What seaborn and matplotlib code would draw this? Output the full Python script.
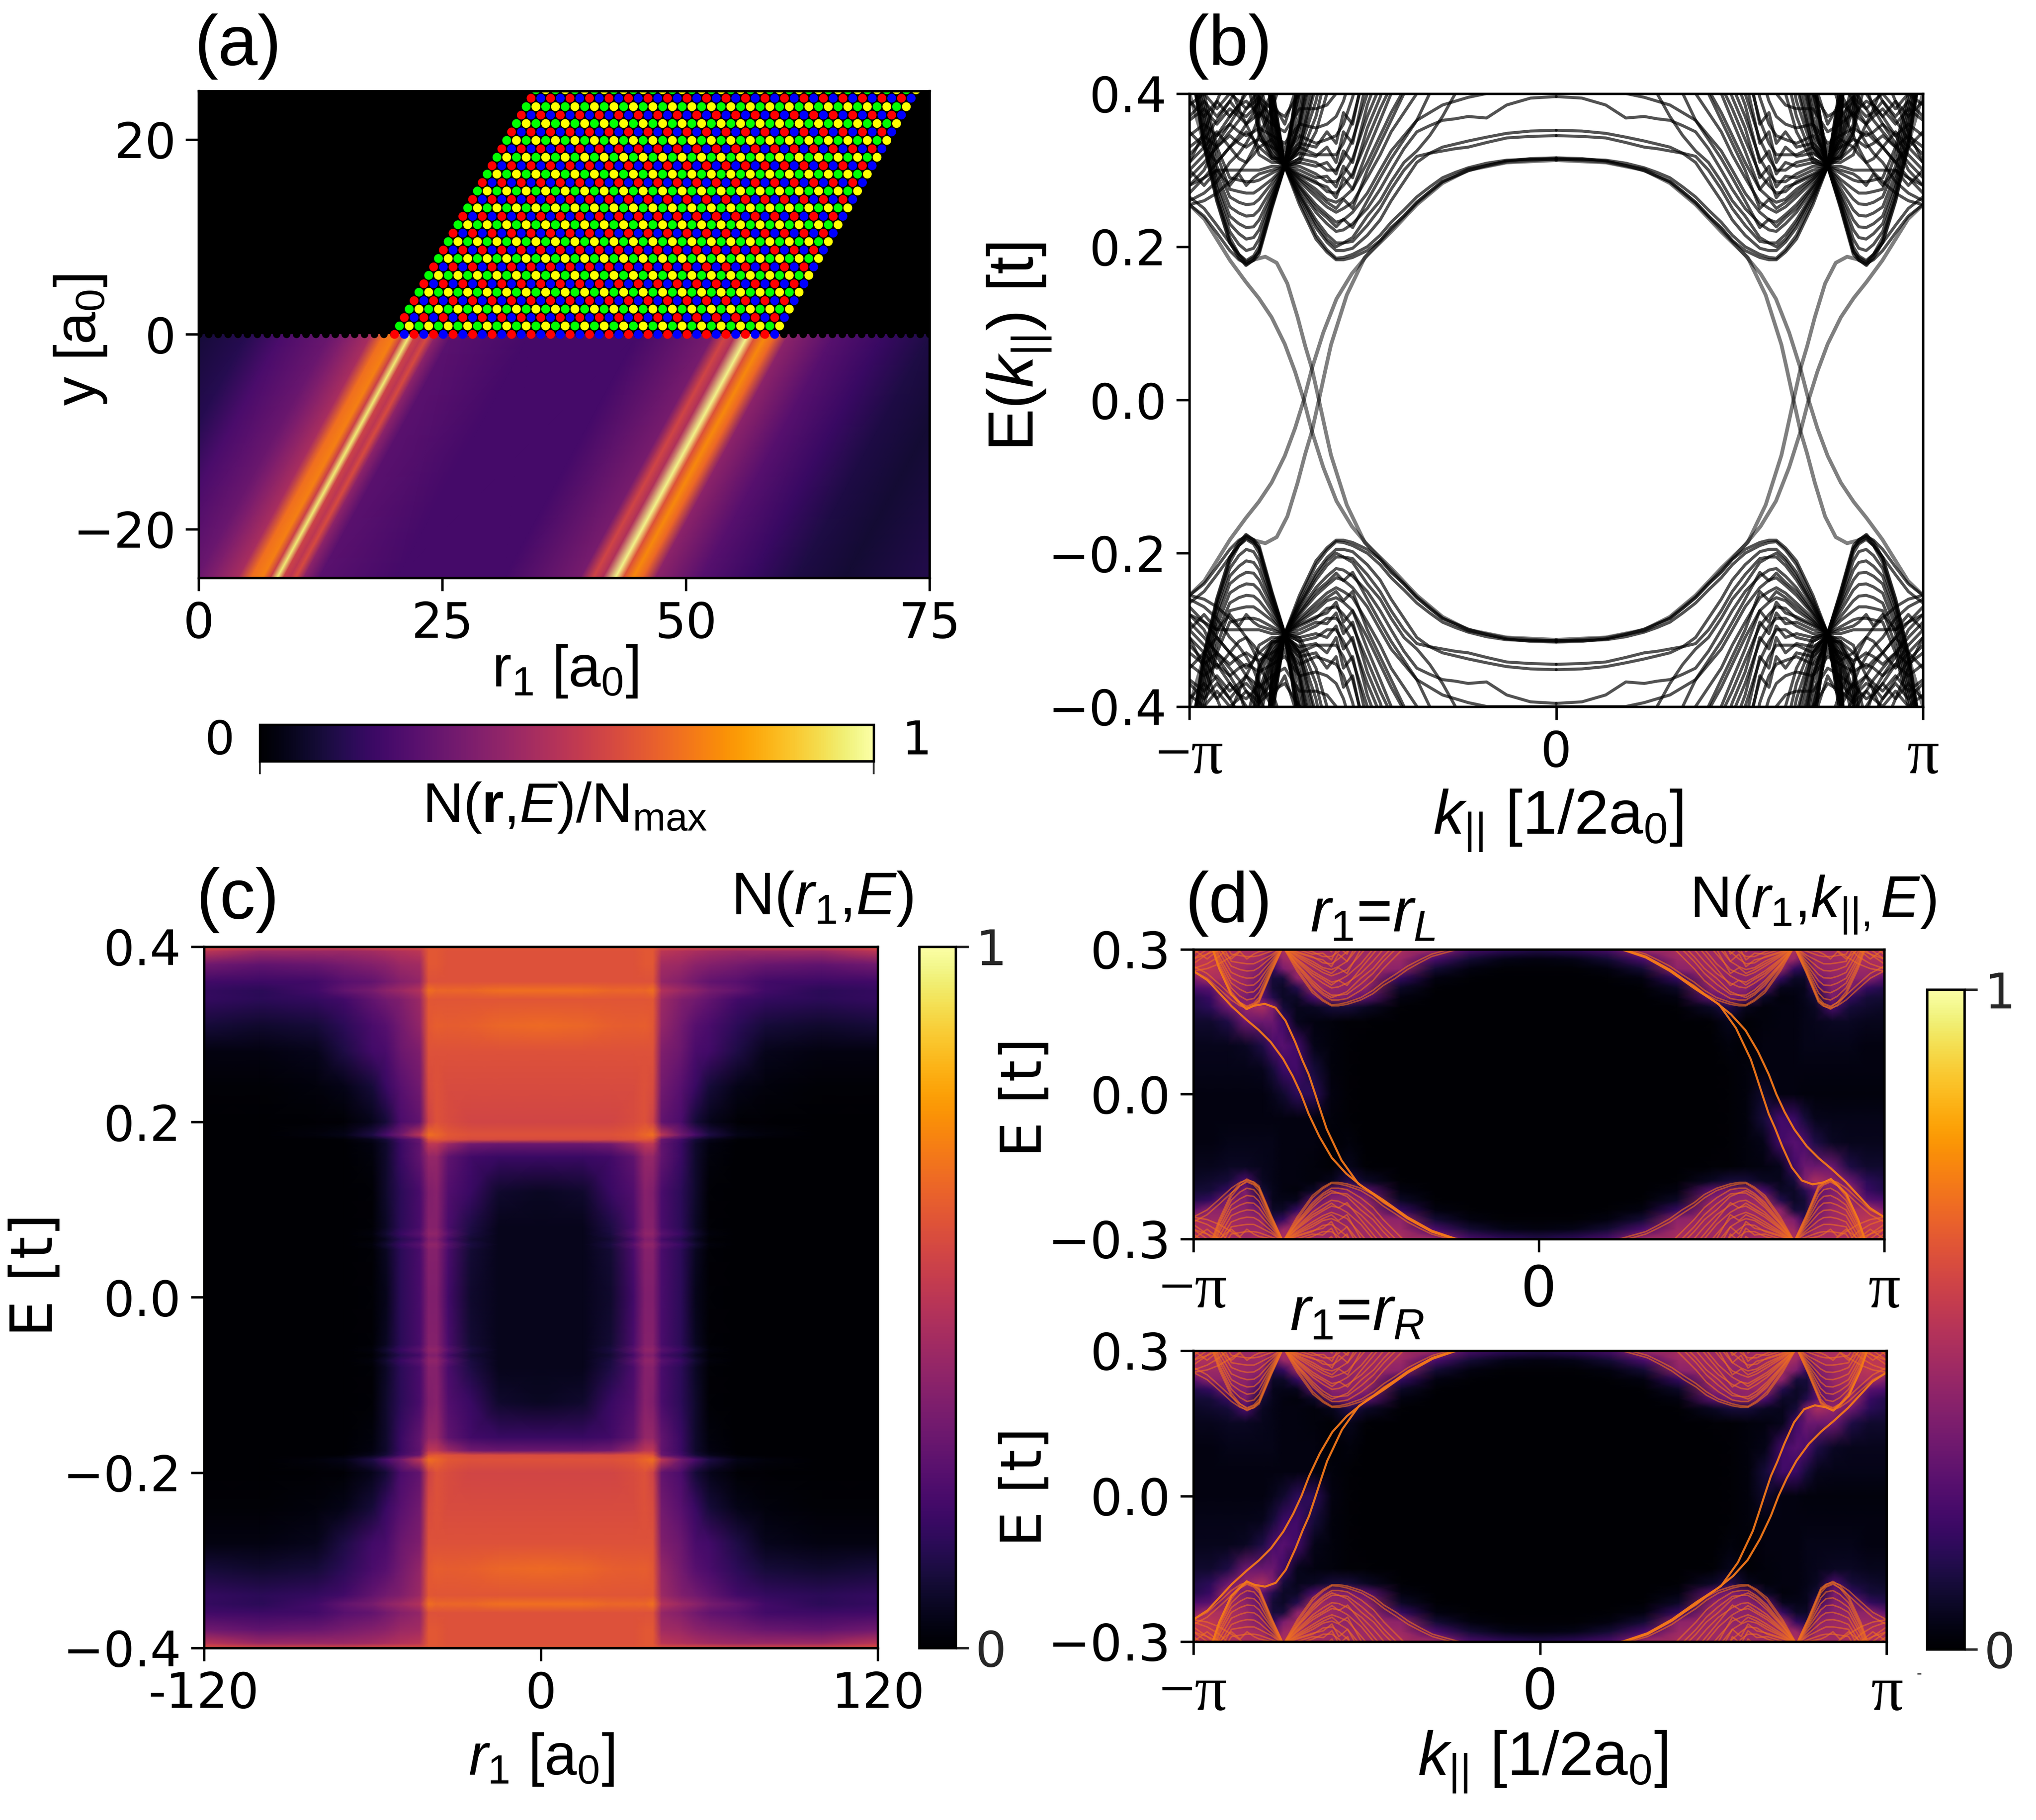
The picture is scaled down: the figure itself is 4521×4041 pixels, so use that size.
import numpy as np
import pandas as pd
import matplotlib
matplotlib.use("Agg")
import matplotlib.pyplot as plt
import seaborn as sns

W, H = 1568.0, 1401.5  # layout units of the page

# (a) LDOS profile across the stripe, r1 at y=0 against N/Nmax
STRIPE_R = [0, 5, 8.5, 13.5, 15, 17.7, 19, 20.2, 21, 21.7, 22.3, 23, 23.6, 24.4, 26, 34, 45,
            52.8, 54.1, 55.1, 56.4, 57.2, 58.2, 59.2, 60.5, 65.2, 70.3, 75, 80, 88.7]
STRIPE_N = [.1, .14, .22, .3, .35, .45, .68, .72, .54, .95, .55, .5, .58, .38, .26, .21, .21,
            .33, .56, .47, .97, .6, .74, .66, .38, .25, .18, .12, .09, .13]
STRIPE_TILT = 0.546
LATTICE_START = 20.1
LATTICE_ROWS = 30
LATTICE_COLS = 40

# (b) gap states, k/pi and E
GAP_A_K = [-1, -.959, -.924, -.889, -.846, -.811, -.776, -.74, -.712, -.688, -.666, -.635,
           -.599, -.557, -.515, -.451, -.381, -.31, -.24, -.134, 0]
GAP_A_E = [.255, .236, .209, .182, .154, .133, .108, .073, .037, 0, -.041, -.088,
           -.132, -.165, -.189, -.222, -.257, -.285, -.301, -.311, -.315]
GAP_B_K = [-1, -.96, -.925, -.89, -.846, -.825, -.793, -.762, -.733, -.705, -.684, -.666,
           -.647, -.628, -.614, -.571, -.522, -.451, -.38, -.31, -.24, -.135, 0]
GAP_B_E = [.40, .335, .26, .206, .176, .183, .187, .179, .152, .108, .07, .041,
           0, -.042, -.072, -.137, -.186, -.219, -.255, -.283, -.30, -.31, -.313]

# (b) bulk bands above the gap, k/pi knots left and right of the fan bottom
BAND_K_LEFT = [-1, -.96, -.925, -.89, -.865, -.845, -.825, -.81, -.775, -.74, -.70, -.655, -.625]
BAND_K_RIGHT = [-.60, -.58, -.555, -.515, -.48, -.45, -.415, -.38, -.345, -.31, -.275, -.24,
                -.19, -.135, -.07, 0]
X = 0.6  # off the top of the axes
VALLEY_LEFT = [
    [.45, .33, .26, .206, .185, .176, .183, .195, .255, .305, .43, X, X],
    [.45, .335, .265, .212, .19, .182, .188, .2, .258, .305, .41, X, X],
    [.45, .34, .27, .22, .203, .195, .198, .21, .262, .305, .39, .55, X],
    [.45, .35, .278, .23, .217, .21, .212, .222, .266, .305, .37, .5, X],
    [.45, .36, .285, .24, .23, .225, .226, .235, .27, .305, .355, .47, X],
    [.45, .37, .295, .252, .244, .24, .241, .248, .276, .305, .34, .44, .55],
    [.45, .38, .305, .265, .258, .255, .256, .262, .283, .305, .33, .41, .5],
    [.45, .39, .32, .275, .272, .27, .27, .275, .288, .305, .325, .39, .46],
    [.45, .40, .33, .29, .287, .285, .285, .287, .296, .305, .315, .37, .43],
    [.28, .29, .30, .30, .30, .30, .30, .30, .305, .305, .31, .35, .40],
    [.255, .24, .218, .195, .183, .178, .182, .19, .25, .305, .43, X, X],
    [.265, .25, .228, .205, .19, .18, .186, .193, .252, .305, .42, X, X],
]
FAN_LEFT = [
    [X, X, X, X, X, X, X, X, .41, .305, .255, .21, .193],
    [X, X, X, X, X, X, X, X, .415, .305, .26, .215, .196],
    [X, X, X, X, X, X, X, X, .40, .305, .265, .225, .206],
    [X, X, X, X, X, X, X, X, .39, .305, .27, .235, .216],
    [X, X, X, X, X, X, X, X, .38, .305, .275, .245, .23],
    [X, X, X, X, X, X, X, X, .37, .305, .28, .255, .242],
    [X, X, X, X, X, X, X, X, .36, .305, .285, .265, .252],
    [X, X, X, X, X, X, X, X, .35, .305, .29, .275, .262],
    [X, X, X, X, X, X, X, .40, .34, .305, .295, .285, .272],
    [X, X, X, X, .55, .5, .43, .38, .33, .305, .305, .295, .285],
    [X, X, X, .5, .46, .42, .38, .35, .32, .305, .315, .31, .30],
    [X, .55, .48, .41, .38, .36, .34, .32, .31, .31, .33, .32, .32],
    [.33, .345, .33, .345, .335, .33, .337, .34, .33, .32, .345, .335, .34],
    [.345, .36, .345, .36, .35, .345, .35, .355, .345, .335, .36, .355, .36],
    [.365, .38, .36, .38, .37, .36, .368, .375, .36, .35, .38, .38, .385],
    [.385, .40, .38, .40, .39, .38, .388, .395, .38, .37, .40, .41, .425],
    [X, X, X, X, X, X, X, X, .395, .305, .268, .23, .21],
    [X, X, X, X, X, X, X, X, .375, .305, .278, .25, .238],
    [X, X, X, X, X, X, X, X, .355, .305, .288, .27, .258],
    [X, X, X, X, X, X, X, .42, .345, .305, .293, .283, .278],
    [X, X, X, X, X, X, X, .39, .335, .305, .30, .29, .292],
    [X, X, X, X, X, X, X, .36, .325, .305, .31, .305, .31],
    [X, X, X, X, X, X, .42, .35, .318, .31, .322, .318, .33],
    [X, X, X, X, X, .46, .40, .345, .315, .315, .335, .33, .35],
]
FAN_RIGHT = [
    [.183, .183, .186, .195, .208, .225, .24, .258, .272, .285, .292, .299, .306, .312, .315, .316],
    [.185, .186, .19, .2, .215, .232, .248, .265, .278, .29, .297, .303, .309, .313, .314, .314],
    [.195, .195, .198, .215, .235, .26, .285, .31, .322, .33, .334, .338, .343, .348, .351, .352],
    [.205, .205, .207, .228, .25, .275, .30, .318, .322, .325, .328, .33, .336, .342, .344, .345],
    [.22, .222, .23, .25, .275, .30, .328, .35, .358, .365, .367, .37, .368, .385, .394, .396],
    [.232, .235, .245, .27, .30, .325, .345, .365, .375, .385, .39, .395, .40, .40, .40, .40],
    [.245, .25, .258, .29, .32, .35, .375, .40, .415, .43, .46, .5],
    [.258, .264, .275, .31, .345, .375, .405, .44, .48, .52],
    [.27, .28, .295, .34, .38, .41, .45, .5],
    [.285, .295, .315, .37, .41, .45, .5, .55],
    [.30, .315, .34, .40, .45, .5],
    [.32, .335, .365, .44, .5, .55],
    [.345, .36, .395, .48],
    [.37, .39, .43, .52],
    [.40, .42, .46],
    [.44, .46, .5],
    [.20, .205, .212, .24, .26, .285, .31, .325, .345, .37, .40, .45],
    [.226, .236, .225, .26, .29, .315, .34, .365, .40, .44, .5],
    [.25, .262, .25, .30, .335, .365, .40, .45, .5],
    [.264, .29, .275, .325, .365, .40, .45, .5],
    [.278, .305, .29, .355, .395, .44, .5],
    [.295, .325, .31, .385, .43, .48],
    [.31, .35, .335, .42, .47],
    [.335, .375, .36, .45, .5],
]
CROSS_LEFT = [
    [.27, .29, .31, .33, .345, .36, .375, .39, .42, X, X, X, X],
    [.29, .31, .33, .35, .365, .38, .395, .41, X, X, X, X, X],
    [.26, .27, .285, .31, .322, .335, .352, .37, .40, X, X, X, X],
    [.255, .26, .27, .285, .297, .31, .328, .345, .38, .43, X, X, X],
    [.30, .32, .345, .37, .385, .40, .415, .43, X, X, X, X, X],
    [.32, .34, .365, .39, .41, .43, .45, X, X, X, X, X, X],
    [.30, .28, .30, .28, .295, .28, .29, .295, .30, .305, .36, .5, X],
    [.31, .33, .31, .33, .315, .31, .32, .33, .315, .305, .33, .42, .5],
    [.35, .33, .35, .33, .34, .35, .34, .33, .34, .31, .36, .45, X],
    [.37, .39, .37, .39, .375, .37, .38, .39, .37, .325, .40, .5, X],
    [.39, .37, .39, .37, .385, .39, .38, .37, .39, .36, .42, .5, X],
    [.31, .35, .39, .43, .46, .5, X, X, X, X, X, X, X],
    [.28, .30, .335, .36, .38, .41, .44, .47, X, X, X, X, X],
]

# (c) N(r1,E): r1 columns, upper half E rows
C_R = [0, 15, 25, 33, 37, 40, 43, 50, 55, 60, 70, 80, 100, 120]
C_E = [.40, .395, .38, .36, .35, .34, .31, .28, .24, .2, .185, .18, .175, .16, .12, .08, .072, .066, .06, .054, 0]
C_N = [
    [.62, .62, .62, .62, .62, .62, .6, .6, .6, .6, .58, .58, .58, .6],
    [.6, .6, .6, .6, .62, .62, .5, .48, .46, .44, .42, .42, .42, .5],
    [.6, .6, .6, .6, .62, .62, .44, .42, .38, .36, .33, .3, .28, .32],
    [.6, .6, .6, .6, .6, .6, .4, .36, .32, .28, .25, .2, .19, .2],
    [.68, .68, .66, .66, .66, .68, .48, .42, .38, .33, .28, .2, .15, .17],
    [.61, .61, .61, .61, .61, .62, .42, .35, .32, .28, .2, .17, .15, .17],
    [.67, .66, .64, .63, .64, .62, .4, .32, .25, .22, .15, .1, .08, .1],
    [.6, .6, .6, .6, .6, .6, .35, .3, .22, .2, .12, .05, .03, .03],
    [.58, .58, .58, .58, .6, .58, .32, .25, .18, .1, .04, .02, .01, .01],
    [.56, .56, .56, .58, .6, .55, .28, .22, .1, .05, .01, .005, 0, 0],
    [.6, .6, .6, .62, .66, .68, .5, .32, .22, .12, .04, .02, 0, 0],
    [.58, .58, .58, .6, .62, .6, .3, .2, .1, .05, .01, 0, 0, 0],
    [.3, .3, .32, .42, .5, .5, .28, .18, .08, .03, 0, 0, 0, 0],
    [.18, .18, .2, .27, .4, .4, .28, .18, .08, .02, 0, 0, 0, 0],
    [.06, .08, .18, .24, .37, .35, .22, .15, .08, .01, 0, 0, 0, 0],
    [.05, .05, .12, .22, .36, .36, .22, .15, .07, .01, 0, 0, 0, 0],
    [.05, .05, .11, .26, .39, .39, .26, .18, .09, .02, 0, 0, 0, 0],
    [.05, .05, .09, .21, .35, .35, .21, .14, .06, .01, 0, 0, 0, 0],
    [.05, .05, .11, .26, .39, .39, .26, .18, .09, .02, 0, 0, 0, 0],
    [.05, .05, .09, .22, .36, .36, .22, .15, .06, .01, 0, 0, 0, 0],
    [.05, .05, .08, .2, .35, .35, .22, .15, .05, .01, 0, 0, 0, 0],
]

# (d) glow under the lines, upper half E rows, columns for |k|/pi going 1 -> 0
D_K = [1, .95, .9, .85, .8, .77, .74, .7, .65, .6, .55, .5, .4, .3, .2, .1, 0]
D_E = [.3, .28, .26, .24, .22, .2, .18, .15, .1, .05, 0]
D_LEFT = [
    [.42, .5, .46, .46, .46, .42, .46, .46, .46, .42, .42, .42, .46, .42, .22, .16, .13],
    [.5, .5, .46, .46, .42, .26, .42, .46, .42, .42, .42, .42, .42, .22, .09, .04, .03],
    [.52, .5, .46, .42, .34, .17, .34, .42, .42, .38, .38, .42, .38, .09, .03, .01, .01],
    [.34, .46, .46, .42, .3, .1, .1, .38, .42, .42, .38, .42, .17, .03, .01, 0, 0],
    [.22, .26, .42, .38, .26, .09, .07, .13, .42, .4, .38, .38, .07, .01, 0, 0, 0],
    [.13, .18, .42, .34, .26, .13, .07, .07, .22, .38, .34, .26, .03, 0, 0, 0, 0],
    [.12, .15, .3, .4, .45, .35, .1, .05, .06, .1, .1, .06, .01, 0, 0, 0, 0],
    [.08, .08, .12, .3, .3, .3, .2, .05, .03, .02, .01, .01, 0, 0, 0, 0, 0],
    [.05, .05, .05, .06, .12, .22, .25, .2, .04, .02, .01, 0, 0, 0, 0, 0, 0],
    [.04, .04, .04, .04, .05, .1, .18, .2, .1, .02, .01, 0, 0, 0, 0, 0, 0],
    [.03, .03, .03, .03, .03, .05, .08, .15, .15, .03, .01, 0, 0, 0, 0, 0, 0],
]
D_RIGHT = [
    [.46, .46, .46, .42, .46, .46, .46, .46, .42, .42, .42, .42, .46, .42, .22, .16, .13],
    [.46, .46, .46, .42, .42, .26, .42, .42, .42, .42, .42, .42, .42, .22, .09, .04, .03],
    [.46, .42, .42, .42, .38, .13, .17, .42, .42, .38, .38, .42, .38, .09, .03, .01, .01],
    [.26, .38, .38, .38, .3, .07, .07, .17, .38, .38, .38, .42, .17, .03, .01, 0, 0],
    [.13, .17, .34, .36, .17, .05, .04, .05, .26, .38, .38, .38, .07, .01, 0, 0, 0],
    [.09, .1, .17, .34, .09, .05, .03, .02, .07, .3, .34, .26, .03, 0, 0, 0, 0],
    [.07, .08, .1, .22, .06, .04, .03, .03, .02, .05, .13, .07, .01, 0, 0, 0, 0],
    [.05, .05, .06, .06, .05, .04, .03, .03, .02, .01, .05, .01, 0, 0, 0, 0, 0],
    [.03, .03, .04, .04, .04, .04, .03, .03, .03, .01, .02, 0, 0, 0, 0, 0, 0],
    [.03, .03, .03, .03, .03, .03, .03, .03, .03, .02, .01, 0, 0, 0, 0, 0, 0],
    [.02, .02, .02, .02, .02, .02, .03, .03, .08, .02, .01, 0, 0, 0, 0, 0, 0],
]


def mirror_rows(values):
    # rows come from the top down to E=0, reflect them below zero
    values = np.asarray(values, dtype=float)
    return np.vstack([values, values[-2::-1]])


def rect(left, right, top, bottom):
    return [left / W, 1 - bottom / H, (right - left) / W, (bottom - top) / H]


def page_text(x, y, s, **kw):
    kw.setdefault("ha", "center")
    kw.setdefault("va", "center")
    fig.text(x / W, 1 - y / H, s, **kw)


def band_frame(sign_e=1.0, gap="all"):
    band_k = np.array(BAND_K_LEFT + BAND_K_RIGHT)
    n_right = len(BAND_K_RIGHT)
    bands = [row + [X] * n_right for row in VALLEY_LEFT + CROSS_LEFT]
    bands += [left + right + [X] * (n_right - len(right)) for left, right in zip(FAN_LEFT, FAN_RIGHT)]
    rows = []
    curve = 0
    for band in bands:
        for sk, se in ((1, 1), (1, -1), (-1, 1), (-1, -1)):
            rows.append(pd.DataFrame({"k": sk * band_k, "E": se * np.array(band),
                                      "curve": curve, "kind": "band"}))
            curve += 1
    for gk, ge in ((GAP_A_K, GAP_A_E), (GAP_B_K, GAP_B_E)):
        if gap == "all":
            signs = ((1, 1), (1, -1), (-1, 1), (-1, -1))
        else:
            signs = ((1, sign_e), (-1, -sign_e))
        for sk, se in signs:
            rows.append(pd.DataFrame({"k": sk * np.array(gk), "E": se * np.array(ge),
                                      "curve": curve, "kind": "gap"}))
            curve += 1
    return pd.concat(rows, ignore_index=True)


sns.set_theme(style="ticks")
plt.rcParams["font.family"] = ["DejaVu Sans"]
plt.rcParams["mathtext.fontset"] = "custom"
plt.rcParams["mathtext.rm"] = "Liberation Sans"
plt.rcParams["mathtext.it"] = "Liberation Sans:italic"
plt.rcParams["mathtext.bf"] = "Liberation Sans:bold"
plt.rcParams["axes.linewidth"] = 1.3
plt.rcParams["axes.edgecolor"] = "black"
plt.rcParams["text.color"] = "black"

cmap = sns.color_palette("inferno", as_cmap=True)
TICK = 26
LABEL = 31
PANEL = 38
SANS = "Liberation Sans"

fig = plt.figure(figsize=(4521 / 300, 4041 / 300), dpi=300)


def style_axes(ax, size=TICK):
    ax.tick_params(labelsize=size, length=7, width=1.3, color="black", labelcolor="black", pad=5)


def pi_ticks(ax, zero_size=TICK, pad=5):
    ax.set_xticks([-1, 0, 1])
    ax.set_xticklabels(["\u2212\u03c0", "0", "\u03c0"], fontsize=34, family="Liberation Serif")
    ax.tick_params(axis="x", pad=pad)
    zero = ax.get_xticklabels()[1]
    zero.set_family("DejaVu Sans")
    zero.set_fontsize(zero_size)


# ---- (a)
ax_a = fig.add_axes(rect(153, 716, 70, 445))
ax_a.set_facecolor("black")
stripe = np.array(STRIPE_R)
mesh_x = np.vstack([stripe - STRIPE_TILT * 25, stripe])
mesh_y = np.vstack([np.full_like(stripe, -25.0), np.zeros_like(stripe)])
mesh_n = np.vstack([STRIPE_N, STRIPE_N])
mesh_a = ax_a.pcolormesh(mesh_x, mesh_y, mesh_n, cmap=cmap, vmin=0, vmax=1, shading="gouraud")

sites = []
for i in range(LATTICE_ROWS):
    for j in range(LATTICE_COLS):
        name = ("red", "blue")[j % 2] if i % 2 == 0 else ("green", "yellow")[j % 2]
        sites.append((LATTICE_START + j + 0.5 * i, i * np.sqrt(3) / 2, name))
sites = pd.DataFrame(sites, columns=["r1", "y", "site"])
edge = pd.DataFrame({"r1": np.arange(0, 76), "y": 0.0})
sns.scatterplot(data=edge, x="r1", y="y", color="black", s=16, linewidth=0, ax=ax_a, legend=False)
sns.scatterplot(data=sites, x="r1", y="y", hue="site", s=22, linewidth=0, ax=ax_a, legend=False,
                palette={"red": "#ff0000", "blue": "#0000ff", "green": "#00ff00", "yellow": "#ffff00"})
ax_a.set(xlim=(0, 75), ylim=(-25, 25), xlabel="", ylabel="", xticks=[0, 25, 50, 75], yticks=[-20, 0, 20])
style_axes(ax_a)
page_text(183, 36, "(a)", family=SANS, fontsize=PANEL)
page_text(62, 262, r"y [a$_0$]", family=SANS, fontsize=LABEL, rotation=90)
page_text(435, 517, r"r$_1$ [a$_0$]", family=SANS, fontsize=LABEL)

cax_a = fig.add_axes(rect(200, 673, 558, 586))
cb_a = fig.colorbar(mesh_a, cax=cax_a, orientation="horizontal", ticks=[0, 1])
cb_a.set_ticklabels(["", ""])
cb_a.ax.tick_params(length=7, width=1.0)
page_text(169, 571, "0", fontsize=25)
page_text(706, 571, "1", fontsize=25)
page_text(435, 622, r"N($\mathbf{r}$,$E$)/N$_{\mathrm{max}}$", family=SANS, fontsize=30)

# ---- (b)
ax_b = fig.add_axes(rect(916, 1481, 72, 544))
frame = band_frame()
sns.lineplot(data=frame[frame["kind"] == "band"], x="k", y="E", units="curve", estimator=None, sort=False,
             color="black", alpha=0.68, linewidth=1.6, ax=ax_b, legend=False)
sns.lineplot(data=frame[frame["kind"] == "gap"], x="k", y="E", units="curve", estimator=None, sort=False,
             color="black", alpha=0.5, linewidth=2.0, ax=ax_b, legend=False)
ax_b.set(xlim=(-1, 1), ylim=(-0.4, 0.4), xlabel="", ylabel="", yticks=[-0.4, -0.2, 0, 0.2, 0.4])
ax_b.set_yticklabels(["\u22120.4", "\u22120.2", "0.0", "0.2", "0.4"])
style_axes(ax_b)
pi_ticks(ax_b)
page_text(946, 36, "(b)", family=SANS, fontsize=PANEL)
page_text(785, 267, r"E($k_{||}$) [t]", family=SANS, fontsize=34, rotation=90)
page_text(1200, 632, r"$k_{||}$ [1/2a$_0$]", family=SANS, fontsize=33)

# ---- (c)
ax_c = fig.add_axes(rect(157, 676, 729, 1269))
c_full = mirror_rows(C_N)
c_full = np.hstack([c_full[:, :0:-1], c_full])
c_r = np.concatenate([-np.array(C_R[:0:-1]), C_R])
c_e = np.concatenate([C_E, -np.array(C_E[-2::-1])])
mesh_c = ax_c.pcolormesh(c_r, c_e, c_full, cmap=cmap, vmin=0, vmax=1, shading="gouraud")
ax_c.set(xlim=(-120, 120), ylim=(-0.4, 0.4), xticks=[-120, 0, 120], yticks=[-0.4, -0.2, 0, 0.2, 0.4])
ax_c.set_xticklabels(["-120", "0", "120"])
ax_c.set_yticklabels(["\u22120.4", "\u22120.2", "0.0", "0.2", "0.4"])
style_axes(ax_c)
cax_c = fig.add_axes(rect(708, 736, 729, 1269))
cb_c = fig.colorbar(mesh_c, cax=cax_c, ticks=[0, 1])
cb_c.ax.tick_params(labelsize=TICK, length=7, width=1.3)
page_text(183, 693, "(c)", family=SANS, fontsize=PANEL)
page_text(633, 692, r"N($r_1$,$E$)", family=SANS, fontsize=32)
page_text(28, 982, "E [t]", fontsize=31, rotation=90)
page_text(417, 1355, r"$r_1$ [a$_0$]", family=SANS, fontsize=LABEL)

# ---- (d)
d_left = np.array(D_LEFT)
d_right = np.array(D_RIGHT)
d_upper = np.hstack([d_left, d_right[:, -2::-1]])
d_k = np.concatenate([-np.array(D_K), np.array(D_K[-2::-1])])
d_e = np.concatenate([-np.array(D_E)[:-1], np.array(D_E[::-1])])
d_field = np.vstack([d_upper[:-1, ::-1], d_upper[::-1]])

for key, top, bottom, right, sign in (("L", 731, 954, 1451, 1.0), ("R", 1040, 1264, 1453, -1.0)):
    ax = fig.add_axes(rect(919, right, top, bottom))
    field = d_field if sign > 0 else d_field[::-1]
    mesh_d = ax.pcolormesh(d_k, d_e, field, cmap=cmap, vmin=0, vmax=1, shading="gouraud")
    lines = band_frame(sign_e=sign, gap="one")
    sns.lineplot(data=lines[lines["kind"] == "band"], x="k", y="E", units="curve", estimator=None, sort=False,
                 color=cmap(0.68), alpha=0.6, linewidth=0.8, ax=ax, legend=False)
    sns.lineplot(data=lines[lines["kind"] == "gap"], x="k", y="E", units="curve", estimator=None, sort=False,
                 color=cmap(0.7), alpha=0.95, linewidth=1.1, ax=ax, legend=False)
    ax.set(xlim=(-1, 1), ylim=(-0.3, 0.3), xlabel="", ylabel="", yticks=[-0.3, 0, 0.3])
    ax.set_yticklabels(["\u22120.3", "0.0", "0.3"])
    style_axes(ax, size=27)
    pi_ticks(ax, zero_size=30, pad=6)

cax_d = fig.add_axes(rect(1484, 1513, 762, 1270))
cb_d = fig.colorbar(mesh_d, cax=cax_d, ticks=[0, 1])
cb_d.ax.tick_params(labelsize=TICK, length=7, width=1.3)
page_text(946, 696, "(d)", family=SANS, fontsize=PANEL)
page_text(1057, 705, r"$r_1$=$r_L$", family=SANS, fontsize=33)
page_text(1396, 697, r"N($r_1$,$k_{||,}$$E$)", family=SANS, fontsize=31)
page_text(1045, 1012, r"$r_1$=$r_R$", family=SANS, fontsize=33)
page_text(790, 845, "E [t]", fontsize=30, rotation=90)
page_text(790, 1145, "E [t]", fontsize=30, rotation=90)
page_text(1188, 1357, r"$k_{||}$ [1/2a$_0$]", family=SANS, fontsize=33)
page_text(1478, 1289, "-", fontsize=8)

fig.savefig("out.png", dpi=300, facecolor="white")
